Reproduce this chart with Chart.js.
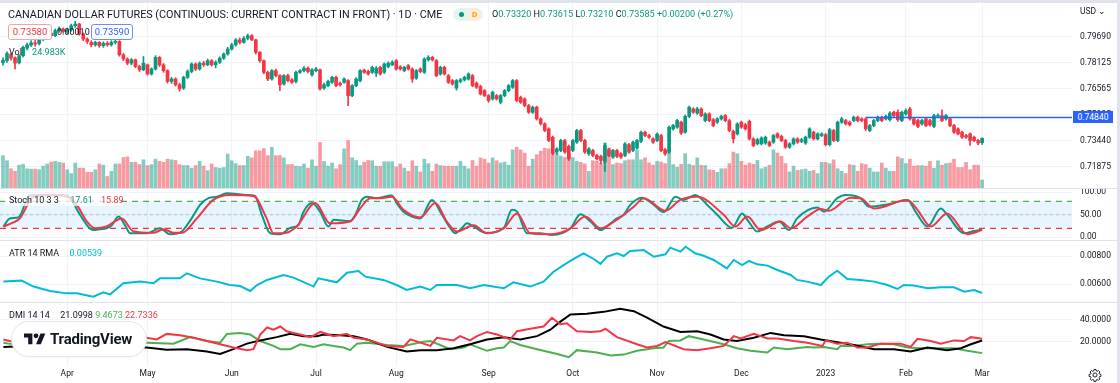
<!DOCTYPE html>
<html>
<head>
<meta charset="utf-8">
<script src="https://cdn.jsdelivr.net/npm/chart.js@4.4.0/dist/chart.umd.min.js"></script>
<style>
  body { margin: 0; width: 1120px; height: 383px; overflow: hidden; background: #fff; position: relative;
         font-family: Roboto, "Liberation Sans", sans-serif; color: #131722; }
  canvas { position: absolute; left: 0; }
  .abs { position: absolute; white-space: nowrap; }
  .sep { position: absolute; left: 0; width: 1117px; height: 1px; background: #e0e3eb; }
  .lbl { font-size: 9px; line-height: 11px; }
  .up { color: #089981; }
  .dn { color: #f23645; }
</style>
</head>
<body>
<div class="abs" style="left:0;top:0;width:1120px;height:3px;background:#e0e3eb"></div>
<div class="abs" style="left:1117px;top:0;width:3px;height:383px;background:#e0e3eb"></div>

<canvas id="cMain" width="1117" height="185" style="top:3px"></canvas>
<div class="sep" style="top:188px"></div>
<canvas id="cStoch" width="1117" height="51" style="top:189px"></canvas>
<div class="sep" style="top:240px"></div>
<canvas id="cAtr" width="1117" height="61" style="top:241px"></canvas>
<div class="sep" style="top:302px"></div>
<canvas id="cDmi" width="1117" height="80" style="top:303px"></canvas>

<!-- legend / header -->
<div class="abs" style="left:8px;top:7.5px;font-size:10.8px;line-height:13px">CANADIAN DOLLAR FUTURES (CONTINUOUS: CURRENT CONTRACT IN FRONT) · 1D · CME</div>
<div class="abs" style="left:453px;top:8px;width:30px;height:13px;border-radius:7px;background:#e6f4ef"></div>
<div class="abs" style="left:459px;top:12px;width:5px;height:5px;border-radius:3px;background:#089981"></div>
<div class="abs" style="left:468px;top:8px;width:13px;height:13px;border-radius:7px;background:#fdebd3;color:#ff9800;font-size:8px;line-height:13px;text-align:center;font-weight:bold">D</div>
<div class="abs" style="left:492px;top:8.5px;font-size:9.1px;line-height:11px">O<span class="up">0.73320</span> H<span class="up">0.73615</span> L<span class="up">0.73210</span> C<span class="up">0.73585</span> <span class="up">+0.00200 (+0.27%)</span></div>
<div class="abs" style="left:1080px;top:6px;font-size:8.5px;line-height:10px">USD ⌄</div>

<div class="abs" style="left:8px;top:24px;width:42px;height:14px;border:1px solid #f5a3aa;border-radius:3px;background:#fff;color:#f23645;font-size:9.5px;line-height:14px;text-align:center">0.73580</div>
<div class="abs lbl" style="left:57px;top:26.5px">0.00010</div>
<div class="abs" style="left:91px;top:24px;width:40px;height:14px;border:1px solid #6d8dff;border-radius:3px;background:#fff;color:#2962ff;font-size:9.5px;line-height:14px;text-align:center">0.73590</div>
<div class="abs lbl" style="left:9px;top:46.5px">Vol <span class="up" style="margin-left:8px">24.983K</span></div>

<div class="abs" style="left:1073px;top:111px;width:40px;height:12px;background:#2962ff;color:#fff;font-size:8.5px;line-height:12px;text-align:center">0.74840</div>

<div class="abs" style="left:5px;top:194px;width:116px;height:12px;background:rgba(255,255,255,0.75)"></div>
<div class="abs lbl" style="left:9px;top:194.5px">Stoch 10 3 3 <span class="up" style="margin-left:9px">17.61</span> <span class="dn" style="margin-left:6px">15.89</span></div>
<div class="abs lbl" style="left:9px;top:247.5px">ATR 14 RMA <span style="color:#00bcd4;margin-left:8px">0.00539</span></div>
<div class="abs lbl" style="left:9px;top:309.5px">DMI 14 14 <span style="margin-left:8px">21.0998</span> <span style="color:#4caf50">9.4673</span> <span class="dn">22.7336</span></div>

<!-- TradingView badge -->
<div class="abs" style="left:12px;top:322px;width:134px;height:34px;border-radius:18px;background:#fff;box-shadow:0 0 0 1px #e6e8ee, 0 1px 3px rgba(0,0,0,0.06)"></div>
<svg class="abs" style="left:24px;top:330.6px" width="21.6" height="16.8" viewBox="0 0 36 28">
  <path fill="#131722" d="M14 22H7V11H0V4h14v18zM28 22h-8l7.5-18h8L28 22z"/>
  <circle fill="#131722" cx="20" cy="8" r="4"/>
</svg>
<div class="abs" style="left:50px;top:331px;font-size:15px;line-height:16px;font-weight:bold;letter-spacing:-0.2px">TradingView</div>

<svg class="abs" style="left:1088px;top:368px" width="14" height="14" viewBox="0 0 24 24">
  <path fill="none" stroke="#131722" stroke-width="1.6" d="M12 8.5a3.5 3.5 0 1 0 0 7 3.5 3.5 0 0 0 0-7z M10.3 2.5h3.4l.5 2.6 1.6.7 2.2-1.5 2.4 2.4-1.5 2.2.7 1.6 2.6.5v3.4l-2.6.5-.7 1.6 1.5 2.2-2.4 2.4-2.2-1.5-1.6.7-.5 2.6h-3.4l-.5-2.6-1.6-.7-2.2 1.5-2.4-2.4 1.5-2.2-.7-1.6-2.6-.5v-3.4l2.6-.5.7-1.6-1.5-2.2 2.4-2.4 2.2 1.5 1.6-.7z"/>
</svg>

<script>
// trading days Mar 10 2022 .. Mar 1 2023, index 0..244
const monthStart = [16, 36, 57, 78, 98, 121, 142, 163, 184, 205, 225, 244];
const monthLabels = ["Apr", "May", "Jun", "Jul", "Aug", "Sep", "Oct", "Nov", "Dec", "2023", "Feb", "Mar"];
const priceTicks = [0.7969, 0.78125, 0.76565, 0.75005, 0.7344, 0.71875];

const openP = [
  .7812,.7825,.7862,.7842,.7812,.7855,.7900,.7918,.7932,.7928, .7955,.7965,.7990,.7975,.8005,.8015,.8000,.8010,.8035,.8045,
  .7985,.7955,.7935,.7920,.7935,.7915,.7930,.7920,.7935,.7940, .7860,.7835,.7810,.7830,.7790,.7770,.7800,.7745,.7775,.7845,
  .7800,.7765,.7700,.7715,.7680,.7660,.7725,.7760,.7805,.7775, .7810,.7800,.7825,.7800,.7815,.7840,.7865,.7895,.7920,.7950,
  .7935,.7960,.7975,.7950,.7875,.7825,.7755,.7715,.7765,.7735, .7685,.7735,.7710,.7700,.7755,.7765,.7780,.7740,.7765,.7770,
  .7660,.7675,.7695,.7725,.7690,.7695,.7705,.7615,.7675,.7705, .7768,.7760,.7755,.7750,.7785,.7755,.7790,.7800,.7825,.7788,
  .7765,.7795,.7775,.7720,.7775,.7755,.7830,.7845,.7825,.7745, .7785,.7735,.7705,.7660,.7700,.7710,.7715,.7735,.7690,.7670,
  .7645,.7615,.7595,.7615,.7575,.7615,.7645,.7665,.7705,.7605, .7595,.7555,.7515,.7545,.7475,.7445,.7415,.7365,.7275,.7285,
  .7345,.7310,.7285,.7335,.7405,.7345,.7265,.7285,.7255,.7250, .7215,.7290,.7245,.7285,.7265,.7255,.7320,.7285,.7300,.7340,
  .7395,.7375,.7355,.7345,.7375,.7290,.7275,.7415,.7425,.7455, .7395,.7490,.7535,.7510,.7535,.7465,.7505,.7470,.7455,.7475,
  .7495,.7465,.7400,.7385,.7455,.7440,.7460,.7355,.7325,.7325, .7330,.7335,.7335,.7385,.7370,.7345,.7305,.7325,.7355,.7340,
  .7330,.7365,.7395,.7355,.7375,.7380,.7320,.7405,.7345,.7455, .7465,.7455,.7465,.7485,.7475,.7475,.7405,.7435,.7465,.7485,
  .7475,.7470,.7515,.7515,.7465,.7505,.7535,.7475,.7465,.7445, .7475,.7465,.7430,.7490,.7495,.7475,.7475,.7435,.7415,.7395,
  .7375,.7385,.7365,.7345,.7332
];
const highP = [
  .7842,.7878,.7870,.7848,.7862,.7912,.7930,.7945,.7948,.7962, .7982,.7998,.8002,.8015,.8028,.8022,.8020,.8045,.8062,.8050,
  .7992,.7962,.7945,.7942,.7940,.7938,.7940,.7945,.7952,.7945, .7868,.7842,.7838,.7835,.7798,.7850,.7805,.7782,.7855,.7850,
  .7808,.7770,.7725,.7722,.7690,.7732,.7770,.7812,.7812,.7818, .7822,.7835,.7832,.7825,.7848,.7872,.7905,.7930,.7958,.7962,
  .7970,.7985,.7982,.7955,.7880,.7830,.7762,.7772,.7775,.7742, .7742,.7745,.7718,.7762,.7772,.7790,.7788,.7778,.7785,.7775,
  .7690,.7708,.7732,.7732,.7698,.7722,.7712,.7682,.7722,.7772, .7775,.7768,.7792,.7790,.7792,.7812,.7818,.7825,.7832,.7795,
  .7792,.7802,.7782,.7772,.7782,.7842,.7855,.7852,.7832,.7792, .7792,.7742,.7712,.7712,.7718,.7732,.7752,.7742,.7698,.7678,
  .7652,.7622,.7642,.7622,.7622,.7652,.7682,.7712,.7712,.7612, .7602,.7562,.7552,.7552,.7482,.7452,.7422,.7372,.7302,.7352,
  .7352,.7318,.7352,.7412,.7412,.7352,.7302,.7292,.7262,.7258, .7330,.7298,.7292,.7292,.7272,.7332,.7328,.7342,.7352,.7402,
  .7402,.7382,.7362,.7392,.7382,.7298,.7432,.7442,.7472,.7462, .7498,.7552,.7542,.7545,.7542,.7512,.7512,.7478,.7482,.7498,
  .7502,.7472,.7408,.7452,.7462,.7448,.7468,.7362,.7358,.7368, .7372,.7342,.7382,.7392,.7378,.7352,.7332,.7362,.7362,.7358,
  .7372,.7422,.7402,.7392,.7392,.7388,.7418,.7412,.7462,.7485, .7472,.7462,.7492,.7492,.7482,.7482,.7442,.7472,.7492,.7492,
  .7498,.7518,.7522,.7530,.7522,.7535,.7545,.7482,.7472,.7472, .7482,.7472,.7502,.7505,.7530,.7502,.7482,.7442,.7422,.7402,
  .7382,.7392,.7372,.7352,.73615
];
const lowP = [
  .7798,.7815,.7828,.7775,.7805,.7848,.7890,.7910,.7912,.7920, .7945,.7958,.7965,.7970,.7995,.7990,.7988,.8002,.8025,.7978,
  .7945,.7928,.7908,.7912,.7905,.7905,.7912,.7912,.7925,.7852, .7825,.7800,.7800,.7782,.7760,.7765,.7738,.7738,.7768,.7790,
  .7755,.7690,.7688,.7672,.7642,.7652,.7718,.7752,.7765,.7768, .7790,.7795,.7792,.7782,.7808,.7832,.7858,.7888,.7912,.7925,
  .7930,.7950,.7945,.7865,.7815,.7745,.7705,.7708,.7728,.7645, .7678,.7698,.7688,.7692,.7748,.7758,.7752,.7732,.7758,.7648,
  .7652,.7668,.7688,.7668,.7672,.7688,.7555,.7608,.7668,.7698, .7748,.7738,.7748,.7730,.7738,.7748,.7782,.7795,.7768,.7768,
  .7758,.7768,.7695,.7712,.7752,.7748,.7822,.7822,.7728,.7738, .7738,.7688,.7678,.7648,.7692,.7702,.7708,.7668,.7658,.7618,
  .7608,.7575,.7588,.7588,.7565,.7608,.7638,.7658,.7578,.7568, .7548,.7508,.7508,.7468,.7438,.7398,.7338,.7258,.7262,.7278,
  .7268,.7225,.7278,.7328,.7338,.7268,.7255,.7248,.7228,.7205, .7160,.7248,.7238,.7242,.7238,.7248,.7268,.7278,.7292,.7332,
  .7368,.7358,.7328,.7338,.7278,.7255,.7268,.7408,.7418,.7382, .7388,.7482,.7508,.7502,.7488,.7458,.7458,.7428,.7448,.7468,
  .7458,.7398,.7330,.7378,.7418,.7408,.7348,.7308,.7318,.7318, .7322,.7308,.7328,.7358,.7338,.7298,.7298,.7318,.7328,.7332,
  .7322,.7358,.7348,.7348,.7368,.7312,.7312,.7338,.7338,.7448, .7438,.7432,.7458,.7458,.7458,.7405,.7398,.7428,.7458,.7458,
  .7468,.7462,.7488,.7462,.7458,.7498,.7468,.7438,.7422,.7438, .7428,.7432,.7422,.7482,.7458,.7468,.7428,.7388,.7378,.7358,
  .7358,.7315,.7338,.7318,.7321
];
const closeP = [
  .7828,.7868,.7840,.7810,.7855,.7905,.7920,.7932,.7925,.7955, .7970,.7990,.7975,.8005,.8015,.8000,.8010,.8035,.8045,.7985,
  .7955,.7940,.7920,.7935,.7915,.7930,.7920,.7935,.7940,.7860, .7835,.7810,.7830,.7790,.7770,.7810,.7745,.7775,.7845,.7800,
  .7765,.7700,.7715,.7680,.7655,.7725,.7760,.7805,.7775,.7810, .7800,.7825,.7800,.7815,.7840,.7865,.7895,.7920,.7950,.7935,
  .7960,.7975,.7950,.7875,.7825,.7755,.7715,.7765,.7735,.7680, .7735,.7705,.7695,.7755,.7765,.7780,.7760,.7770,.7775,.7655,
  .7680,.7700,.7725,.7675,.7680,.7715,.7615,.7675,.7715,.7765, .7755,.7745,.7785,.7780,.7745,.7805,.7810,.7815,.7775,.7775,
  .7785,.7775,.7715,.7765,.7760,.7835,.7845,.7830,.7735,.7785, .7745,.7695,.7685,.7705,.7710,.7725,.7745,.7675,.7665,.7625,
  .7615,.7585,.7635,.7595,.7615,.7645,.7675,.7705,.7585,.7575, .7555,.7515,.7545,.7475,.7445,.7405,.7345,.7265,.7295,.7345,
  .7275,.7235,.7345,.7405,.7345,.7275,.7295,.7255,.7235,.7225, .7315,.7255,.7285,.7250,.7245,.7325,.7275,.7335,.7345,.7395,
  .7375,.7365,.7335,.7385,.7285,.7265,.7425,.7435,.7465,.7390, .7490,.7545,.7515,.7535,.7495,.7505,.7465,.7435,.7475,.7490,
  .7465,.7405,.7355,.7445,.7425,.7415,.7355,.7315,.7350,.7360, .7365,.7315,.7375,.7365,.7345,.7305,.7325,.7355,.7335,.7350,
  .7365,.7415,.7355,.7385,.7385,.7320,.7410,.7345,.7455,.7475, .7445,.7440,.7485,.7465,.7465,.7415,.7435,.7465,.7485,.7465,
  .7490,.7510,.7495,.7470,.7515,.7525,.7475,.7445,.7430,.7465, .7435,.7440,.7495,.7495,.7465,.7495,.7435,.7395,.7385,.7365,
  .7365,.7345,.7345,.7330,.73585
];
// volume in thousands of contracts
const volumeK = [
  101,85,60,52,71,74,60,59,59,57, 68,75,81,83,80,78,57,45,78,62, 62,49,49,57,75,71,36,52,75,75,
  95,97,80,80,73,88,70,73,90,83, 80,90,88,86,73,70,70,62,70,83, 68,54,75,64,62,64,106,85,76,70,
  70,99,94,116,116,123,101,127,101,101, 94,73,73,68,67,75,62,88,68,142, 83,68,78,60,73,122,148,94,86,70,
  80,86,85,68,68,82,82,82,66,75, 62,52,85,68,50,90,76,52,75,70, 68,68,68,68,83,68,60,86,68,94,
  90,78,94,85,78,81,71,119,127,119, 109,68,90,104,115,124,122,103,107,100, 95,105,95,83,80,75,52,85,83,78,
  140,125,73,78,76,85,88,88,117,88, 94,78,71,83,81,76,125,73,65,74, 107,74,70,94,71,70,57,55,49,60,
  60,76,112,107,83,71,78,74,86,60, 65,71,119,109,99,76,50,68,55,57, 59,52,55,45,80,80,76,88,60,52,
  45,73,71,52,76,73,62,50,50,78, 62,52,52,97,92,76,90,68,70,70, 68,83,62,85,71,76,78,90,64,64,
  80,57,71,71,24.983
];

const rayStart = 215;
const rayPrice = 0.7484;

// Stoch 10 3 3 (read at bar positions)
const stochKAt = [0.1,1.7,3.8,6.7,11.7,15.9,17.1,19.2,22.5,24.2,25.8,27.1,28.8,30.4,31.7,35.8,39.1,41.6,44.1,47,49.1,51.2,53.3,55.8,60.8,62.8,64.5,66.6,69.1,71.6,73.6,74.9,77,79,81.1,82.4,86.5,87.8,89.4,90.7,93.2,96.9,98.1,99.8,101.9,104,106.9,109.4,111.5,112.7,114.4,115.6,117.3,120.2,124.8,126.8,128.1,130.6,133.9,136.8,141.4,143.9,146.4,148.9,151.4,153,154.7,156.3,159.2,162.2,164.6,167.6,169.6,172.5,175.5,178,181.7,184.2,185.5,188,190.5,193.4,195.9,197.9,202.9,204.6,207.9,210,213.7,215.8,220.4,225.4,227.4,230.4,233.7,235.3,239.5,242,244];
const stochK = [23.7,42,44,93,94,93,83,50,16,18,20,27,46,27,9,9,20,7,10,42,72,87,90,98,94,92,50,9,7,21,27,57,76,57,24,39,36,50,83,90,87,93,76,57,46,42,83,50,20,9,21,31,24,10,21,61,57,9,9,5,20,51,35,16,31,42,50,72,88,72,56,90,83,94,72,50,21,53,39,13,24,35,16,42,66,57,87,94,87,68,73,83,57,24,64,50,9,14,17.61];
const stochDAt = [0.1,2.6,4.2,7.6,12.6,16.7,18.4,20.9,22.9,25.8,29.6,32.5,37.5,40,42.5,44.6,48.3,52.4,56.6,62.4,65.7,67.4,69.9,73.2,77.8,81.5,86.5,89,91.5,94,96.9,99.8,104,107.7,110.6,113.1,117.3,120.6,124.8,128.1,131.4,136.8,141.4,145.1,148.9,153,157.2,159.7,165.1,168.8,173,179.6,182.5,185.5,188.8,193.8,196.3,200.4,203.8,205.8,211.2,213.7,217.1,225.4,227.9,231.2,235.3,240.3,244];
const stochD = [24,33,42,90,94,87,72,35,20,24,42,13,10,18,10,10,42,83,94,92,42,9,9,24,76,31,35,64,87,87,90,61,44,76,35,13,27,9,20,53,9,7,20,46,20,39,68,87,59,83,90,50,24,46,16,35,20,46,63,59,88,87,64,83,61,24,53,7,15.89];
const stochBands = [80, 50, 20];

// ATR 14 RMA
const atrAt = [0.1,4.6,7.6,11.7,15.9,18.4,22.5,25,26.7,30,34.2,37.5,39.1,44.1,45.8,49.1,53.3,56.6,59.1,61.6,63.3,65.8,69.9,72.4,77.4,78.6,83.2,85.7,88.6,90.3,94.8,98.1,100.6,104,106.5,108.1,113.1,116.4,119.8,124.8,127.2,131.4,134.7,137.2,139.7,142.2,144.7,147.2,148.9,150.5,153,154.7,156.3,159.7,162.2,165.1,166.3,168.8,170.1,172.5,174.6,177.1,180.4,182.1,184.2,185.9,188,190.5,193,196.3,197.9,200.4,203.8,205.8,207.9,210.4,213.7,217.1,220.4,222.9,224.5,227,230.4,233.7,237,239.5,242,244];
const atr = [0.00619,0.00626,0.00584,0.00553,0.00536,0.00536,0.00513,0.00544,0.00529,0.00607,0.00619,0.00607,0.00642,0.00642,0.00678,0.00642,0.00619,0.00595,0.00588,0.00553,0.00595,0.00631,0.00666,0.00647,0.00584,0.00642,0.00614,0.00682,0.00694,0.00654,0.00631,0.00595,0.0056,0.00584,0.0056,0.00595,0.00595,0.00572,0.00595,0.00572,0.00614,0.00584,0.00619,0.00689,0.00736,0.00779,0.00819,0.00779,0.00744,0.00795,0.00819,0.008,0.00835,0.00842,0.00795,0.00812,0.00859,0.00831,0.00866,0.00819,0.00802,0.00772,0.00713,0.00772,0.00736,0.00765,0.00741,0.00732,0.00701,0.00666,0.00631,0.00619,0.00595,0.00654,0.00696,0.00638,0.00631,0.00619,0.00595,0.00567,0.00595,0.00591,0.00572,0.00579,0.00579,0.00548,0.0056,0.00539];

// DMI 14 14
const adxAt = [0.1,12,24,35.8,40.8,45.8,50.8,54.1,57.4,60.8,64.1,68.2,71.6,74.9,78.2,79.9,84,87.4,90.7,95.7,100.6,104,108.1,112.3,116.4,120.6,124.8,128.9,133.1,136.4,138.9,141.4,145.5,149.7,153.8,157.2,160.5,164.6,168.8,173,176.3,179.6,182.9,187.1,191.3,194.6,199.6,203.8,208.7,212.1,217.1,222,226.2,230.4,235.3,238.7,241.2,244];
const adx = [15.2,17,16,14.6,12.5,13.1,11,8.7,13.1,18.2,21.2,24.2,27.2,25.1,25.1,26.6,26,25.1,22.1,15.2,11,12.2,12.2,14,17.6,22.1,24.2,22.1,25.1,31,38.5,45.1,45.7,47.5,50.4,48.1,42.1,34,28.9,29.6,26.6,22.1,20.6,23.6,28.1,26,25.1,22.1,19.1,17,13.1,13.1,11,14.6,12.2,14,17.6,21.1];
const plusDiAt = [0.1,1.7,10,20,30,35.8,42.5,46.6,50.8,54.1,55.8,59.1,61.6,64.1,67.4,69.1,71.6,74.1,77.4,79.9,82.4,84.9,86.5,88.2,90.7,95.7,99.8,104.8,106.5,111.5,114.8,116.4,120.6,123.1,124.8,126.4,128.9,133.1,138.1,141,143,148,151.4,154.7,158,162.2,164.6,165.9,168.8,170.9,174.6,179.6,182.9,186.3,190.5,192.1,195.4,200.4,202.1,204.6,207.9,208.7,212.1,215.4,217.9,222,225.4,228.7,233.7,237,240.3,244];
const plusDi = [19,18,20,22,19,19.1,18.2,24.2,20.6,19.1,27.2,28.1,26.6,20.6,16.1,13.1,13.1,17.6,15.2,17.6,16.1,14.6,12.2,18.2,19.1,17,16.1,20,20.6,13.1,14.6,17.6,11.6,14,14.6,20.6,17,13.1,8.7,5.7,12.2,10.1,7.2,8.1,11.6,14,14.6,20.6,21.2,25.1,22.1,17.6,14,11.6,10.1,14.6,13.1,15.2,14.6,15.2,13.1,16.1,16.1,17.6,18.2,17.6,14.6,14,14,14,11.6,9.47];
const minusDiAt = [0.1,1.7,10,20,30,35.8,38.3,40.8,44.1,47.5,50.8,54.1,57.4,60.8,62.4,64.1,65.8,67.4,69.1,70.7,72.4,74.1,76.6,79.1,82.4,85.7,87.4,90.7,95.7,99.8,101.5,104,106.5,108.1,112.3,113.9,116.4,118.1,120.6,123.1,126.4,128.1,131.4,134.7,136.8,138.9,140.5,143,146.4,148.9,150.1,153,158,160.5,163,165.1,169.6,173,176.3,179.6,182.1,183.8,187.1,190.5,193,197.1,200.4,204.2,205,207.9,210.4,212.9,215.4,218.7,223.7,226.2,227.9,231.2,233.7,237,239.5,241.2,244];
const minusDi = [22.1,20.6,18,16,20,23.6,22.1,27.2,26,23.6,20.6,17.6,14.6,12.2,13.1,26.6,33.1,31,34,29.6,28.1,26.6,24.2,29,25.1,27.2,23.6,22.1,16.1,15.2,22.1,19.1,16.1,23.6,21.2,25.1,21.2,25.1,29,26.6,22.1,29.6,31.9,34,42.1,36.1,37,29.6,29,29.6,31.9,24.2,17.6,14.6,16.1,19.6,13.1,12.2,14,16.1,25.1,23,27.2,23,23,20.6,19.1,16.1,21.2,18.2,19.1,14.6,14.6,18.2,18.2,15.2,22.7,20.6,18.2,21.2,20.6,24.2,22.73];

const FONT = 'Roboto, "Liberation Sans", sans-serif';
const UP = "#089981", DOWN = "#f23645";
const X_MIN = -0.75, X_MAX = 266.4;
const GRID = "#f0f3fa";

const pts = (xs, ys) => xs.map((x, i) => ({ x: x, y: ys[i] }));
const hline = v => [{ x: X_MIN, y: v }, { x: X_MAX, y: v }];
const isUp = i => closeP[i] >= openP[i];

function xScale(showLabels) {
    return {
        type: "linear", min: X_MIN, max: X_MAX, offset: false,
        afterBuildTicks: s => { s.ticks = monthStart.map(v => ({ value: v })); },
        afterFit: s => { s.height = showLabels ? 18 : 0; s.paddingLeft = 0; s.paddingRight = 0; },
        grid: { color: GRID, drawTicks: false, offset: false },
        border: { display: false },
        ticks: {
            display: showLabels, autoSkip: false, maxRotation: 0, padding: 4,
            color: "#131722", font: { size: 8.5, family: FONT },
            callback: (v, i) => monthLabels[i]
        }
    };
}

function yScale(min, max, ticks, digits) {
    return {
        position: "right", min: min, max: max,
        afterBuildTicks: s => { s.ticks = ticks.map(v => ({ value: v })); },
        afterFit: s => { s.width = 45; s.paddingTop = 0; s.paddingBottom = 0; },
        grid: { color: GRID, drawTicks: false },
        border: { display: false },
        ticks: { padding: 8, color: "#131722", font: { size: 8.5, family: FONT }, callback: v => v.toFixed(digits) }
    };
}

const common = {
    responsive: false,
    animation: false,
    devicePixelRatio: 1,
    layout: { padding: 0, autoPadding: false },
    plugins: { legend: { display: false }, tooltip: { enabled: false } },
    elements: { point: { radius: 0 } }
};

function line(data, color, width, extra) {
    return Object.assign({ type: "line", data: data, borderColor: color, borderWidth: width, pointRadius: 0, fill: false }, extra || {});
}

// price + volume
new Chart(document.getElementById("cMain"), {
    type: "bar",
    data: {
        datasets: [
            line([{ x: rayStart, y: rayPrice }, { x: X_MAX, y: rayPrice }], "#2962ff", 1.5, { order: 0, yAxisID: "y" }),
            {
                data: openP.map((o, i) => ({ x: i, y: [o, closeP[i]] })),
                yAxisID: "y", barThickness: 3, minBarLength: 1, grouped: false, order: 1,
                backgroundColor: c => isUp(c.dataIndex) ? UP : DOWN
            },
            {
                data: lowP.map((l, i) => ({ x: i, y: [l, highP[i]] })),
                yAxisID: "y", barThickness: 1, grouped: false, order: 2,
                backgroundColor: c => isUp(c.dataIndex) ? UP : DOWN
            },
            {
                data: volumeK.map((v, i) => ({ x: i, y: v })),
                yAxisID: "vol", barThickness: 3, grouped: false, order: 3,
                backgroundColor: c => isUp(c.dataIndex) ? "rgba(8,153,129,0.5)" : "rgba(242,54,69,0.5)"
            }
        ]
    },
    options: Object.assign({}, common, {
        scales: {
            x: xScale(false),
            y: yScale(0.70597, 0.81716, priceTicks, 5),
            vol: { display: false, min: 0, max: 577 }
        }
    })
});

// stochastic
new Chart(document.getElementById("cStoch"), {
    type: "line",
    data: {
        datasets: [
            line(pts(stochDAt, stochD), DOWN, 2, { order: 0, cubicInterpolationMode: "monotone" }),
            line(pts(stochKAt, stochK), UP, 2, { order: 1, cubicInterpolationMode: "monotone" }),
            line(hline(stochBands[0]), "#4caf50", 1.3, { order: 5, borderDash: [6, 5], fill: "+2", backgroundColor: "rgba(33,150,243,0.1)" }),
            line(hline(stochBands[1]), "#c3c6ce", 1, { order: 6, borderDash: [3, 3] }),
            line(hline(stochBands[2]), DOWN, 1.3, { order: 7, borderDash: [6, 5] })
        ]
    },
    options: Object.assign({}, common, {
        scales: { x: xScale(false), y: yScale(-6.0, 107.3, [0, 50, 100], 2) }
    })
});

// ATR
new Chart(document.getElementById("cAtr"), {
    type: "line",
    data: { datasets: [line(pts(atrAt, atr), "#00bcd4", 2)] },
    options: Object.assign({}, common, {
        scales: { x: xScale(false), y: yScale(0.00475, 0.00906, [0.006, 0.008], 5) }
    })
});

// DMI
new Chart(document.getElementById("cDmi"), {
    type: "line",
    data: {
        datasets: [
            line(pts(minusDiAt, minusDi), DOWN, 2, { order: 0 }),
            line(pts(adxAt, adx), "#000000", 2, { order: 1 }),
            line(pts(plusDiAt, plusDi), "#4caf50", 2, { order: 2 })
        ]
    },
    options: Object.assign({}, common, {
        scales: { x: xScale(true), y: yScale(-1.48, 55.67, [20, 40], 4) }
    })
});
</script>
</body>
</html>
